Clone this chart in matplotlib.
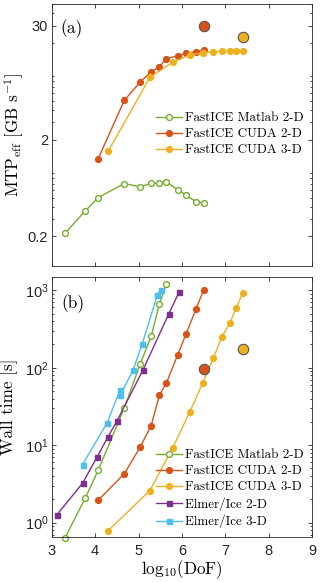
import matplotlib
matplotlib.use("Agg")
import matplotlib.pyplot as plt
import matplotlib.ticker as mticker

# ---- data ----
# FastICE Matlab 2-D
matlab_x = [3.31, 3.77, 4.07, 4.67, 5.04, 5.29, 5.48, 5.64, 5.90, 6.09, 6.32, 6.50]
matlab_mtp = [0.217, 0.366, 0.504, 0.703, 0.65, 0.708, 0.708, 0.731, 0.609, 0.537, 0.457, 0.443]
matlab_time = [0.64, 2.06, 4.75, 30.1, 113, 254, 667, 1210]

# FastICE CUDA 2-D
cuda2_x = [4.07, 4.67, 5.04, 5.29, 5.48, 5.64, 5.90, 6.09, 6.32, 6.50]
cuda2_mtp = [1.27, 5.06, 7.88, 10.0, 11.3, 13.6, 14.7, 15.5, 16.1, 16.8]
cuda2_time = [1.94, 4.26, 9.5, 17.9, 44.3, 63.4, 146, 270, 568, 1021]
cuda2_big_x = 6.50
cuda2_big_mtp = 30.0
cuda2_big_time = 95

# FastICE CUDA 3-D
cuda3_x = [4.30, 5.26, 5.79, 6.18, 6.48, 6.72, 6.91, 7.10, 7.25, 7.40]
cuda3_mtp = [1.51, 8.75, 12.6, 14.9, 15.7, 16.1, 16.2, 16.4, 16.4, 16.4]
cuda3_time = [0.785, 2.59, 9.3, 27.0, 64, 132, 247, 374, 597, 925]
cuda3_big_x = 7.40
cuda3_big_mtp = 23.1
cuda3_big_time = 176

# Elmer/Ice 2-D
elmer2_x = [3.12, 3.71, 4.05, 4.30, 4.50, 5.10, 5.69, 5.93]
elmer2_time = [1.26, 3.22, 7.12, 12.9, 20.4, 93, 489, 942]

# Elmer/Ice 3-D
elmer3_x = [3.71, 4.28, 4.57, 4.58, 4.87, 5.08, 5.43, 5.51]
elmer3_time = [5.6, 19.6, 51.4, 44.3, 92.3, 200, 861, 1021]

GREEN = "#77AC30"
RED = "#D95319"
YELLOW = "#EDB120"
PURPLE = "#7E2F8E"
CYAN = "#4DBEEE"
AXCOL = "#262626"

plt.rcParams["font.family"] = ["Liberation Sans", "DejaVu Sans"]
plt.rcParams["mathtext.fontset"] = "cm"
plt.rcParams["axes.edgecolor"] = AXCOL
plt.rcParams["xtick.color"] = AXCOL
plt.rcParams["ytick.color"] = AXCOL
SERIF = "cmr10"
LABEL_FS = 12.3
LEG_FS = 9.4

fig = plt.figure(figsize=(3.2, 5.82), dpi=100)
ax1 = fig.add_axes([0.1616, 0.5435, 0.8144, 0.4496])
ax2 = fig.add_axes([0.1616, 0.0773, 0.8144, 0.4473])

line_kw = dict(lw=1.0, ms=4.2)
big_kw = dict(mec="#555555", mew=0.8, ms=7.5)

# ---- panel (a) ----
ax1.plot(matlab_x, matlab_mtp, "-o", color=GREEN, mfc="white", mec=GREEN,
         label="FastICE Matlab 2-D", **line_kw)
ax1.plot(cuda2_x, cuda2_mtp, "-o", color=RED, label="FastICE CUDA 2-D", **line_kw)
ax1.plot(cuda3_x, cuda3_mtp, "-o", color=YELLOW, label="FastICE CUDA 3-D", **line_kw)
ax1.plot(cuda2_big_x, cuda2_big_mtp, "o", color=RED, **big_kw)
ax1.plot(cuda3_big_x, cuda3_big_mtp, "o", color=YELLOW, **big_kw)
ax1.set_yscale("log")
ax1.set_ylim(0.1, 50)
ax1.set_xlim(3, 9)
ax1.yaxis.set_major_locator(mticker.FixedLocator([0.2, 2, 30]))
ax1.yaxis.set_major_formatter(mticker.FixedFormatter(["0.2", "2", "30"]))
ax1.set_xticks([3, 4, 5, 6, 7, 8, 9])
ax1.set_xticklabels([])
ax1.set_ylabel(r"MTP$_\mathrm{eff}$ [GB s$^{-1}$]", family=SERIF, fontsize=LABEL_FS)
ax1.yaxis.set_label_coords(-0.097, 0.5)
ax1.text(0.077, 0.907, "(a)", transform=ax1.transAxes, family=SERIF, fontsize=12.5,
         ha="center", va="center")
ax1.legend(loc="center left", bbox_to_anchor=(0.40, 0.503), frameon=False,
           prop={"family": SERIF, "size": LEG_FS}, borderpad=0, borderaxespad=0,
           handlelength=2.0, handletextpad=0.2, labelspacing=0.3, numpoints=1)

# ---- panel (b) ----
ax2.plot(matlab_x[:len(matlab_time)], matlab_time, "-o", color=GREEN, mfc="white",
         mec=GREEN, label="FastICE Matlab 2-D", clip_on=False, **line_kw)
ax2.plot(cuda2_x, cuda2_time, "-o", color=RED, label="FastICE CUDA 2-D", **line_kw)
ax2.plot(cuda3_x, cuda3_time, "-o", color=YELLOW, label="FastICE CUDA 3-D", **line_kw)
ax2.plot(elmer2_x, elmer2_time, "-s", color=PURPLE, label="Elmer/Ice 2-D", lw=1.0, ms=3.6)
ax2.plot(elmer3_x, elmer3_time, "-s", color=CYAN, label="Elmer/Ice 3-D", lw=1.0, ms=3.6)
ax2.plot(cuda2_big_x, cuda2_big_time, "o", color=RED, **big_kw)
ax2.plot(cuda3_big_x, cuda3_big_time, "o", color=YELLOW, **big_kw)
ax2.set_yscale("log")
ax2.set_ylim(0.65, 1500)
ax2.set_xlim(3, 9)
ax2.yaxis.set_major_locator(mticker.FixedLocator([1, 10, 100, 1000]))
ax2.set_xticks([3, 4, 5, 6, 7, 8, 9])
ax2.set_ylabel("Wall time [s]", family=SERIF, fontsize=LABEL_FS)
ax2.yaxis.set_label_coords(-0.128, 0.5)
ax2.set_xlabel(r"log$_{10}$(DoF)", family=SERIF, fontsize=LABEL_FS)
ax2.xaxis.set_label_coords(0.5, -0.083)
ax2.text(0.083, 0.898, "(b)", transform=ax2.transAxes, family=SERIF, fontsize=12.5,
         ha="center", va="center")
ax2.legend(loc="center left", bbox_to_anchor=(0.40, 0.186), frameon=False,
           prop={"family": SERIF, "size": LEG_FS}, borderpad=0, borderaxespad=0,
           handlelength=2.0, handletextpad=0.2, labelspacing=0.3, numpoints=1)

for ax in (ax1, ax2):
    ax.tick_params(which="both", direction="in", top=True, right=True, labelsize=10.5,
                   width=0.6)
    ax.tick_params(which="major", length=3)
    ax.tick_params(which="minor", length=1.6)
    ax.tick_params(axis="x", pad=5)
    ax.tick_params(axis="y", pad=2.5)
    ax.xaxis.set_minor_locator(mticker.NullLocator())
    for s in ax.spines.values():
        s.set_linewidth(0.6)

fig.savefig("out.png", dpi=100)
